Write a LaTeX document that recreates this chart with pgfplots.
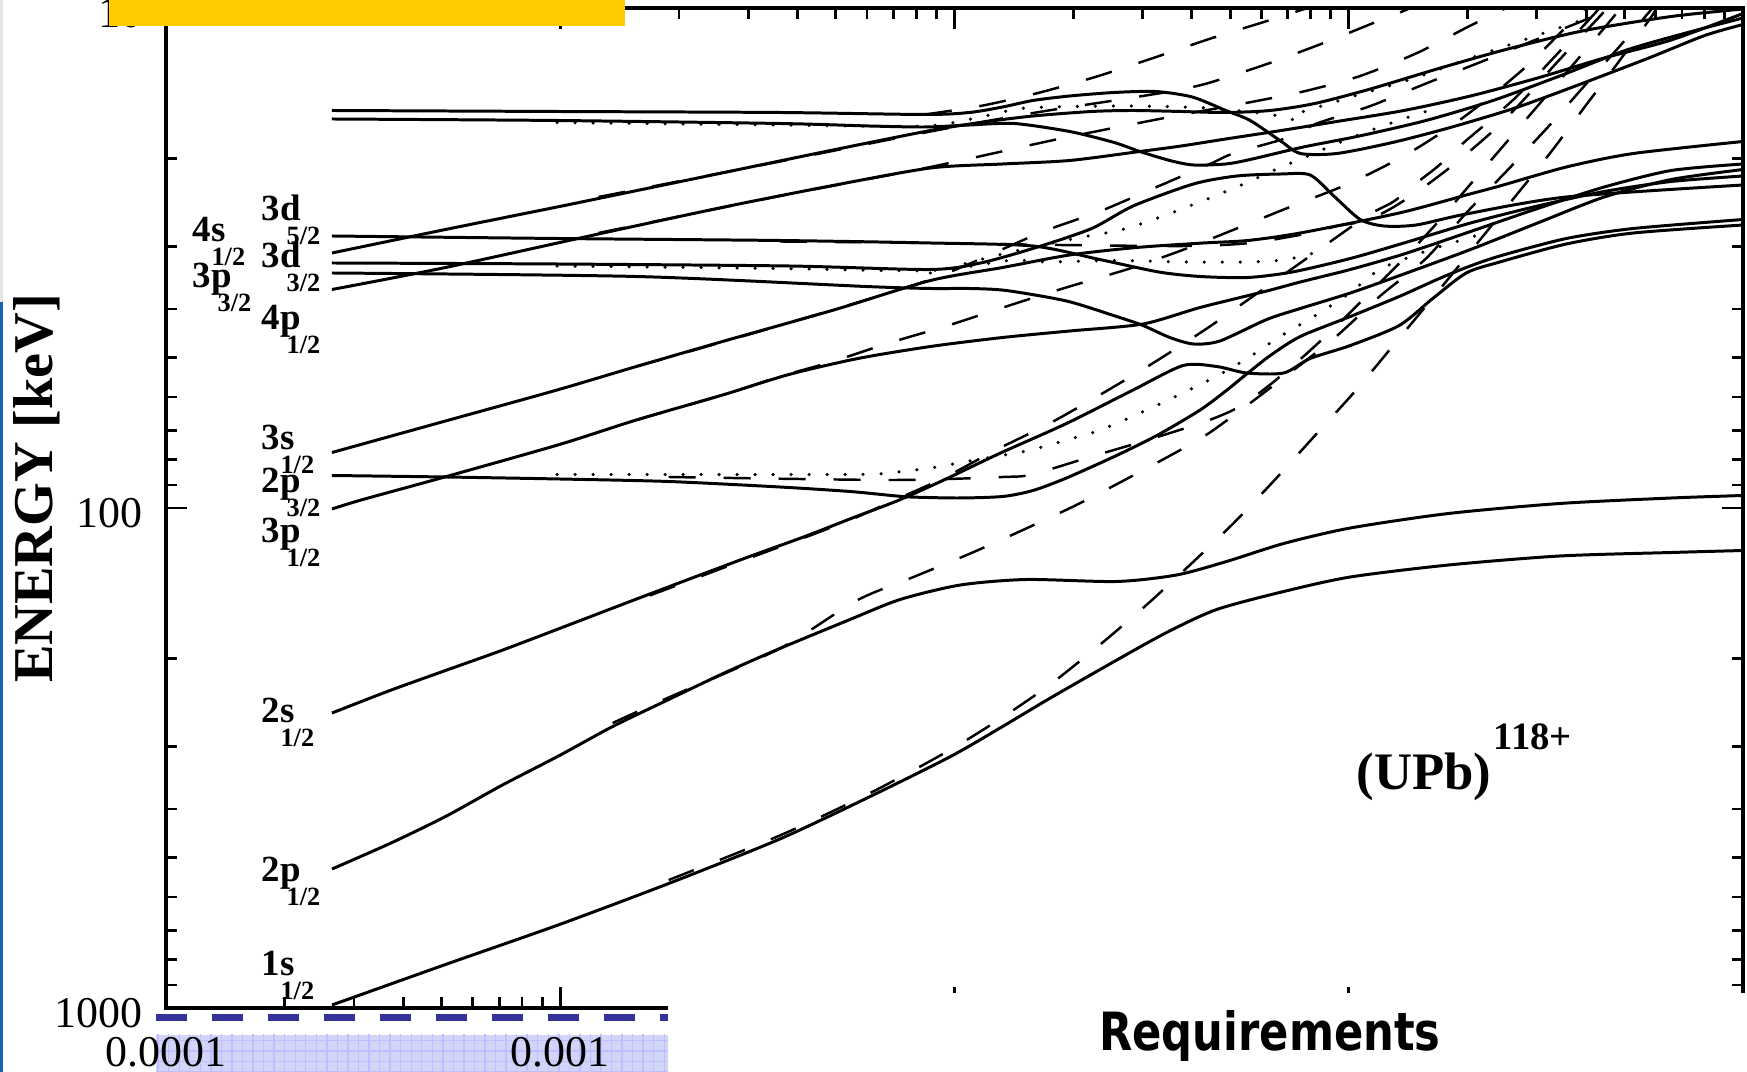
\documentclass[border=0pt]{standalone}
\usepackage{fontspec}
\setmainfont{Liberation Serif}
\newfontfamily\handfont{DejaVu Sans}
\usepackage{graphicx}
\usepackage{pgfplots}
\pgfplotsset{compat=1.18}
\usetikzlibrary{patterns}

\definecolor{slideyellow}{HTML}{FFCC00}
\definecolor{slideblue}{HTML}{1A62B0}
\definecolor{navydash}{HTML}{333399}
\definecolor{hatchblue}{HTML}{D2D5F7}

% level label: main symbol with a dropped j-subscript
\newcommand{\lvl}[2]{\textbf{#1}\kern-1.4mm\raisebox{-2.4mm}{\fontsize{7.5}{7.5}\selectfont\textbf{#2}}}

\pgfplotsset{
  adiabatic/.style={black, line width=0.85pt, smooth, tension=0.45},
  diabatic/.style={black, line width=0.7pt, dash pattern=on 2.7mm off 2.8mm, smooth, tension=0.45},
  dotcurve/.style={black, line width=1pt, line cap=round, dash pattern=on 0pt off 1.8mm, smooth, tension=0.45},
}

\begin{document}
\begin{tikzpicture}
\useasboundingbox (-16.6mm,-6.4mm) rectangle (158.1mm,100.8mm);

% backdrop under the tick labels
\fill[hatchblue] (-1.0mm,-6.5mm) rectangle (50.2mm,-2.7mm);
\fill[pattern=grid, pattern color=blue!25] (-1.0mm,-6.5mm) rectangle (50.2mm,-2.7mm);
\draw[navydash, line width=0.75mm, dash pattern=on 3.1mm off 2.5mm] (-1.0mm,-0.97mm) -- (50.2mm,-0.97mm);

% axes in log10 R and log10 |E|
\begin{axis}[
  at={(0,0)}, anchor=south west,
  scale only axis, width=157.7mm, height=100mm,
  xmin=-4, xmax=0, ymin=1, ymax=3, y dir=reverse,
  xtick={-4,-3,-2,-1,0},
  xticklabels={{0.0001},{0.001},{},{},{}},
  ytick={1,2,3},
  yticklabels={{10},{100},{1000}},
  minor xtick={-3.699,-3.523,-3.398,-3.301,-3.222,-3.155,-3.097,-3.046,
               -2.699,-2.523,-2.398,-2.301,-2.222,-2.155,-2.097,-2.046,
               -1.699,-1.523,-1.398,-1.301,-1.222,-1.155,-1.097,-1.046,
               -0.699,-0.523,-0.398,-0.301,-0.222,-0.155,-0.097,-0.046},
  minor ytick={1.301,1.477,1.602,1.699,1.778,1.845,1.903,1.954,
               2.301,2.477,2.602,2.699,2.778,2.845,2.903,2.954},
  tick align=inside,
  major tick length=2.1mm, minor tick length=1.1mm,
  axis line style={line width=0.9pt},
  every tick/.style={black, line width=0.8pt},
  tick label style={font=\fontsize{12.5}{12.5}\selectfont},
  xticklabel style={inner sep=0pt, anchor=north, yshift=-2.9mm},
  yticklabel style={inner sep=0pt, anchor=east, xshift=-2.3mm, yshift=-0.5mm},
  clip=true,
]

% ---- adiabatic levels (solid) ----
% 1s1/2
\addplot[adiabatic] coordinates {(-3.579,2.994) (-3.291,2.913) (-3.002,2.833) (-2.725,2.751) (-2.443,2.662) (-2.214,2.577) (-2.010,2.497) (-1.878,2.437) (-1.759,2.381) (-1.595,2.307) (-1.462,2.249) (-1.335,2.203) (-1.165,2.167) (-0.996,2.138) (-0.747,2.114) (-0.465,2.096) (-0.182,2.089) (0.000,2.085)};
% 2p1/2
\addplot[adiabatic] coordinates {(-3.579,2.722) (-3.432,2.671) (-3.291,2.617) (-3.149,2.555) (-3.002,2.495) (-2.867,2.437) (-2.725,2.383) (-2.584,2.330) (-2.443,2.281) (-2.265,2.223) (-2.138,2.183) (-1.985,2.154) (-1.818,2.143) (-1.589,2.147) (-1.437,2.134) (-1.310,2.107) (-1.165,2.071) (-0.996,2.040) (-0.747,2.011) (-0.465,1.991) (-0.182,1.980) (0.000,1.975)};
% 2s1/2
\addplot[adiabatic] coordinates {(-3.579,2.410) (-3.432,2.365) (-3.291,2.325) (-3.149,2.285) (-3.002,2.241) (-2.773,2.172) (-2.530,2.100) (-2.383,2.058) (-2.259,2.020) (-2.140,1.984) (-2.027,1.944) (-1.886,1.891) (-1.716,1.831) (-1.547,1.764) (-1.420,1.715) (-1.335,1.717) (-1.259,1.730) (-1.165,1.730) (-1.098,1.701) (-0.996,1.675) (-0.872,1.635) (-0.787,1.581) (-0.702,1.530) (-0.617,1.508) (-0.448,1.472) (-0.278,1.450) (0.000,1.434)};
% 2p3/2
\addplot[adiabatic] coordinates {(-3.579,1.935) (-3.291,1.938) (-3.002,1.942) (-2.725,1.947) (-2.443,1.958) (-2.265,1.967) (-2.160,1.975) (-2.112,1.978) (-1.991,1.980) (-1.878,1.977) (-1.801,1.965) (-1.716,1.940) (-1.589,1.895) (-1.482,1.853) (-1.377,1.804) (-1.312,1.766) (-1.259,1.732) (-1.199,1.695) (-1.123,1.657) (-0.996,1.617) (-0.872,1.577) (-0.776,1.543) (-0.702,1.519) (-0.617,1.496) (-0.448,1.461) (-0.278,1.441) (0.000,1.423)};
% 3p1/2
\addplot[adiabatic] coordinates {(-3.579,2.002) (-3.505,1.984) (-3.293,1.938) (-3.002,1.873) (-2.807,1.824) (-2.584,1.773) (-2.420,1.733) (-2.245,1.701) (-2.061,1.677) (-1.878,1.659) (-1.708,1.646) (-1.522,1.632) (-1.377,1.599) (-1.208,1.566) (-1.123,1.548) (-0.996,1.523) (-0.860,1.492) (-0.691,1.447) (-0.521,1.401) (-0.352,1.358) (-0.182,1.325) (0.000,1.312)};
% 3s1/2
\addplot[adiabatic] coordinates {(-3.579,1.889) (-3.291,1.826) (-3.008,1.764) (-2.807,1.717) (-2.584,1.666) (-2.302,1.603) (-2.061,1.545) (-1.878,1.519) (-1.708,1.494) (-1.538,1.479) (-1.369,1.470) (-1.256,1.465) (-1.123,1.450) (-0.872,1.410) (-0.702,1.374) (-0.617,1.356) (-0.448,1.318) (-0.278,1.291) (0.000,1.267)};
% 3p3/2
\addplot[adiabatic] coordinates {(-3.579,1.530) (-2.807,1.537) (-2.225,1.557) (-2.061,1.561) (-1.962,1.561) (-1.869,1.565) (-1.716,1.586) (-1.589,1.617) (-1.522,1.635) (-1.454,1.659) (-1.394,1.672) (-1.327,1.666) (-1.208,1.623) (-1.123,1.601) (-0.996,1.570) (-0.860,1.532) (-0.691,1.483) (-0.521,1.430) (-0.352,1.378) (-0.182,1.343) (0.000,1.323)};
% 3d3/2
\addplot[adiabatic] coordinates {(-3.579,1.510) (-3.008,1.512) (-2.420,1.516) (-2.061,1.523) (-1.934,1.510) (-1.793,1.479) (-1.652,1.441) (-1.547,1.396) (-1.394,1.352) (-1.284,1.336) (-1.171,1.332) (-1.098,1.334) (-1.038,1.376) (-0.971,1.423) (-0.911,1.436) (-0.829,1.434) (-0.702,1.412) (-0.448,1.378) (0.000,1.354)};
% 3d5/2
\addplot[adiabatic] coordinates {(-3.579,1.456) (-3.008,1.461) (-2.443,1.465) (-2.061,1.470) (-1.801,1.476) (-1.632,1.503) (-1.482,1.528) (-1.377,1.537) (-1.256,1.539) (-1.143,1.528) (-0.996,1.501) (-0.860,1.470) (-0.691,1.430) (-0.521,1.396) (-0.352,1.367) (-0.182,1.347) (0.000,1.336)};
% 4p1/2
\addplot[adiabatic] coordinates {(-3.579,1.563) (-3.291,1.519) (-2.903,1.452) (-2.584,1.398) (-2.302,1.354) (-2.061,1.320) (-1.878,1.312) (-1.708,1.305) (-1.530,1.287) (-1.425,1.276) (-1.312,1.262) (-1.171,1.245) (-1.030,1.227) (-0.860,1.205) (-0.691,1.176) (-0.521,1.140) (-0.352,1.100) (-0.182,1.064) (0.000,1.011)};
% 4s1/2
\addplot[adiabatic] coordinates {(-3.579,1.490) (-3.291,1.443) (-3.008,1.398) (-2.903,1.381) (-2.584,1.329) (-2.302,1.283) (-2.061,1.245) (-1.934,1.229) (-1.801,1.216) (-1.652,1.207) (-1.547,1.205) (-1.425,1.207) (-1.312,1.209) (-1.199,1.205) (-1.086,1.191) (-0.945,1.162) (-0.776,1.122) (-0.606,1.084) (-0.408,1.046) (-0.182,1.017) (0.000,1.002)};
% upper pair
\addplot[adiabatic] coordinates {(-3.579,1.205) (-3.008,1.207) (-2.443,1.209) (-2.075,1.213) (-1.962,1.209) (-1.878,1.198) (-1.801,1.185) (-1.708,1.176) (-1.595,1.169) (-1.490,1.167) (-1.397,1.178) (-1.312,1.205) (-1.250,1.225) (-1.171,1.267) (-1.123,1.291) (-1.030,1.291) (-0.889,1.269) (-0.747,1.240) (-0.578,1.200) (-0.408,1.151) (-0.239,1.100) (-0.097,1.055) (0.000,1.033)};
\addplot[adiabatic] coordinates {(-3.579,1.222) (-3.008,1.225) (-2.443,1.231) (-2.217,1.236) (-2.075,1.238) (-1.962,1.234) (-1.849,1.231) (-1.708,1.247) (-1.595,1.269) (-1.530,1.287) (-1.454,1.305) (-1.394,1.314) (-1.312,1.312) (-1.250,1.303) (-1.115,1.278) (-0.973,1.256) (-0.804,1.225) (-0.634,1.185) (-0.465,1.136) (-0.295,1.084) (-0.126,1.046) (0.000,1.020)};

% ---- diabatic continuations (dashed) ----
\addplot[diabatic] coordinates {(-2.725,2.744) (-2.443,2.655) (-2.214,2.570) (-2.016,2.486) (-1.883,2.421) (-1.759,2.354) (-1.635,2.276) (-1.516,2.196) (-1.403,2.114) (-1.293,2.031) (-1.188,1.944) (-1.081,1.851) (-0.979,1.762) (-0.880,1.668) (-0.781,1.574) (-0.685,1.481) (-0.586,1.385) (-0.490,1.291) (-0.397,1.193) (-0.312,1.104) (-0.227,1.011) (-0.210,0.980)};
\addplot[diabatic] coordinates {(-2.867,2.430) (-2.725,2.379) (-2.443,2.281) (-2.248,2.185) (-2.104,2.138) (-1.960,2.091) (-1.821,2.042) (-1.683,1.991) (-1.547,1.935) (-1.411,1.877) (-1.343,1.844) (-1.216,1.770) (-1.038,1.661) (-0.922,1.577) (-0.804,1.501) (-0.702,1.410) (-0.592,1.320) (-0.490,1.234) (-0.397,1.151) (-0.309,1.073) (-0.224,0.995) (-0.210,0.980)};
\addplot[diabatic] coordinates {(-2.773,2.175) (-2.530,2.103) (-2.383,2.060) (-2.259,2.022) (-2.140,1.980) (-2.027,1.940) (-1.895,1.884) (-1.759,1.831) (-1.623,1.770) (-1.496,1.710) (-1.360,1.641) (-1.231,1.570) (-1.098,1.496) (-0.954,1.416) (-0.886,1.387) (-0.832,1.352) (-0.776,1.318) (-0.708,1.269) (-0.648,1.229) (-0.578,1.180) (-0.507,1.122) (-0.436,1.062) (-0.366,1.002) (-0.346,0.980)};
\addplot[diabatic] coordinates {(-2.807,1.824) (-2.584,1.773) (-2.443,1.737) (-2.313,1.708) (-2.166,1.670) (-2.016,1.635) (-1.869,1.597) (-1.725,1.561) (-1.555,1.521) (-1.425,1.485) (-1.284,1.441) (-1.143,1.396) (-1.002,1.352) (-0.860,1.296) (-0.736,1.234) (-0.634,1.173) (-0.544,1.113) (-0.465,1.051) (-0.394,0.995) (-0.380,0.980)};
\addplot[diabatic] coordinates {(-2.725,1.938) (-2.160,1.944) (-1.878,1.938) (-1.804,1.933) (-1.652,1.897) (-1.510,1.864) (-1.360,1.826) (-1.276,1.797) (-1.199,1.753) (-1.115,1.697) (-1.030,1.635) (-0.945,1.568) (-0.860,1.501) (-0.776,1.430) (-0.691,1.352) (-0.606,1.274) (-0.521,1.196) (-0.436,1.118) (-0.352,1.040) (-0.289,0.980)};
\addplot[diabatic] coordinates {(-2.807,1.717) (-2.443,1.635) (-2.061,1.543) (-1.784,1.450) (-1.632,1.407) (-1.496,1.361) (-1.352,1.312) (-1.293,1.291) (-1.149,1.258) (-1.081,1.231) (-0.945,1.196) (-0.804,1.151) (-0.662,1.107) (-0.521,1.062) (-0.380,1.017) (-0.295,0.985)};
\addplot[diabatic] coordinates {(-2.443,1.467) (-2.061,1.470) (-1.736,1.474) (-1.411,1.476) (-1.250,1.470) (-1.098,1.450) (-1.030,1.436) (-0.954,1.425) (-0.886,1.398) (-0.818,1.363) (-0.753,1.325) (-0.691,1.285) (-0.626,1.240) (-0.558,1.185) (-0.487,1.122) (-0.417,1.062) (-0.346,1.002) (-0.323,0.980)};
\addplot[diabatic] coordinates {(-2.903,1.450) (-2.443,1.376) (-2.061,1.318) (-1.736,1.262) (-1.454,1.218) (-1.267,1.191) (-1.115,1.167) (-0.971,1.136) (-0.824,1.089) (-0.696,1.037) (-0.606,1.002) (-0.578,0.985)};
\addplot[diabatic] coordinates {(-2.903,1.378) (-2.443,1.307) (-2.061,1.247) (-1.793,1.209) (-1.595,1.185) (-1.454,1.167) (-1.360,1.151) (-1.211,1.113) (-1.067,1.071) (-0.925,1.026) (-0.855,1.004) (-0.804,0.985)};
\addplot[diabatic] coordinates {(-2.075,1.213) (-1.934,1.196) (-1.793,1.171) (-1.643,1.138) (-1.496,1.100) (-1.346,1.060) (-1.199,1.024) (-1.058,0.988) (-1.030,0.980)};

% ---- dotted curves ----
\addplot[dotcurve] coordinates {(-3.008,1.933) (-2.265,1.933) (-2.160,1.929) (-2.061,1.920) (-1.962,1.906) (-1.818,1.886) (-1.716,1.864) (-1.623,1.842) (-1.482,1.793) (-1.349,1.742) (-1.264,1.704) (-1.174,1.657) (-1.089,1.617) (-1.004,1.574) (-0.922,1.523) (-0.832,1.494) (-0.739,1.470) (-0.662,1.452)};
\addplot[dotcurve] coordinates {(-3.008,1.516) (-2.443,1.521) (-2.061,1.525) (-1.861,1.505) (-1.762,1.508) (-1.595,1.505) (-1.411,1.508) (-1.259,1.508) (-1.157,1.503) (-1.058,1.483)};
\addplot[dotcurve] coordinates {(-2.061,1.530) (-1.878,1.492) (-1.708,1.463) (-1.564,1.441) (-1.420,1.401) (-1.284,1.358) (-1.191,1.325) (-1.098,1.294) (-1.002,1.262) (-0.889,1.229) (-0.776,1.200)};
\addplot[dotcurve] coordinates {(-3.008,1.229) (-2.443,1.234) (-2.075,1.236) (-1.934,1.218) (-1.818,1.200) (-1.564,1.196) (-1.360,1.200) (-1.199,1.213) (-1.115,1.229)};
\addplot[dotcurve] coordinates {(-1.115,1.207) (-0.973,1.173) (-0.832,1.140) (-0.691,1.100) (-0.549,1.062) (-0.408,1.024)};

% ---- level labels ----
\begin{scope}[every node/.style={anchor=base west, inner sep=0pt, font=\fontsize{10.5}{10.5}\selectfont}]
\node at (axis cs:-3.759,1.425) {\lvl{3d}{5/2}};
\node at (axis cs:-3.934,1.468) {\lvl{4s}{1/2}};
\node at (axis cs:-3.759,1.520) {\lvl{3d}{3/2}};
\node at (axis cs:-3.934,1.560) {\lvl{3p}{3/2}};
\node at (axis cs:-3.759,1.644) {\lvl{4p}{1/2}};
\node at (axis cs:-3.759,1.883) {\lvl{3s}{1/2}};
\node at (axis cs:-3.759,1.970) {\lvl{2p}{3/2}};
\node at (axis cs:-3.759,2.069) {\lvl{3p}{1/2}};
\node at (axis cs:-3.759,2.430) {\lvl{2s}{1/2}};
\node at (axis cs:-3.759,2.747) {\lvl{2p}{1/2}};
\node at (axis cs:-3.759,2.934) {\lvl{1s}{1/2}};
\end{scope}

% system label
\node[font=\fontsize{15}{15}\selectfont\bfseries] at (axis cs:-0.809,2.537) {(UPb)};
\node[font=\fontsize{11}{11}\selectfont\bfseries] at (axis cs:-0.533,2.457) {118+};
\end{axis}

% slide elements laid over the plot
\fill[white] (50.2mm,-6.5mm) rectangle (158.5mm,1.5mm);
\fill[slideyellow] (-5.7mm,98.2mm) rectangle (45.9mm,100.9mm);
\fill[slideblue] (-16.7mm,-6.5mm) rectangle (-16.25mm,70.6mm);
\fill[gray!20] (-16.7mm,70.6mm) rectangle (-16.25mm,100.9mm);
\node[rotate=90, font=\fontsize{16}{16}\selectfont\bfseries] at (-12.9mm,51.95mm) {ENERGY [keV]};
\node[font=\handfont\bfseries\fontsize{15}{15}\selectfont] at (110.4mm,-2.8mm) {\scalebox{0.82}[1]{Requirements}};
\end{tikzpicture}
\end{document}
